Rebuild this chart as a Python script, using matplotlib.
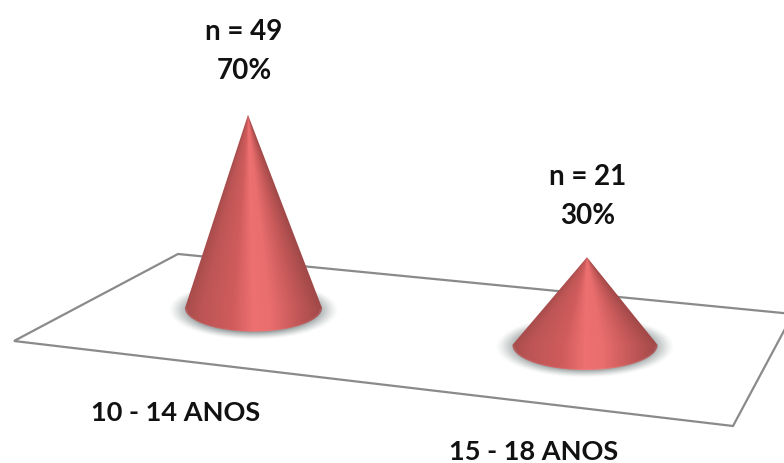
import numpy as np
import matplotlib
matplotlib.use('Agg')
import matplotlib.pyplot as plt
from matplotlib.colors import LinearSegmentedColormap
from matplotlib.patches import Polygon

categories = ['10 - 14 ANOS', '15 - 18 ANOS']
counts = [49, 21]
percents = [70, 30]

# perspective layout of the floor, in pixel units
FLOOR = [(178, 254), (793, 314), (733, 426), (14, 341)]
base_x = [253.5, 585]
base_y = [308, 345]
apex_shift = [-5.5, 2]
depth = [1.0, 1.06]
RADIUS = 68.5
FLATTEN = 0.345
PX_PER_PERCENT = 2.76

value_x = [244, 588]
value_gap = [31, 28]
label_x = [176, 534]
label_y = [421, 460]

cone_cmap = LinearSegmentedColormap.from_list('cone', [
    (0.00, '#a84c4c'), (0.12, '#bd5555'), (0.35, '#d05c5c'), (0.50, '#ee7070'),
    (0.62, '#ea6e6e'), (0.80, '#c85a5a'), (1.00, '#a04848')])


def draw_shadow(ax, cx, cy, a, b):
    xs = np.linspace(cx - a, cx + a, 200)
    ys = np.linspace(cy - b, cy + b, 100)
    xx, yy = np.meshgrid(xs, ys)
    r = np.sqrt(((xx - cx) / a) ** 2 + ((yy - cy) / b) ** 2)
    rgba = np.zeros(xx.shape + (4,))
    rgba[..., :3] = (0.40, 0.44, 0.44)
    rgba[..., 3] = np.clip((1 - r) / 0.35, 0, 1) ** 1.3
    ax.imshow(rgba, extent=(cx - a, cx + a, cy + b, cy - b), zorder=2,
              interpolation='bilinear', aspect='auto')


def draw_cone(ax, cx, cy, top_x, height, a):
    b = a * FLATTEN
    top_y = cy - height
    # body outline: the two sides plus the front half of the base ellipse
    t = np.linspace(0, np.pi, 80)
    outline = [(top_x, top_y)] + [(cx + a * np.cos(v), cy + b * np.sin(v)) for v in t]

    xs = np.linspace(cx - a - 2, cx + a + 2, 300)
    ys = np.linspace(top_y - 1, cy + b + 1, 400)
    xx, yy = np.meshgrid(xs, ys)
    frac = np.clip((yy - top_y) / height, 0.002, 1)
    mid = top_x + (cx - top_x) * frac
    u = (xx - mid) / (a * frac)
    shade = cone_cmap(np.clip((u + 1) / 2, 0, 1))
    # slightly lighter rim along the bottom edge
    rim = np.sqrt(((xx - cx) / a) ** 2 + ((yy - cy) / b) ** 2)
    below = (yy > cy) & (rim > 0.97)
    shade[below, :3] = shade[below, :3] * 0.9 + 0.1

    img = ax.imshow(shade, extent=(xs[0], xs[-1], ys[-1], ys[0]), zorder=3,
                    interpolation='bilinear', aspect='auto')
    clip = Polygon(outline, closed=True, transform=ax.transData, facecolor='none', edgecolor='none')
    ax.add_patch(clip)
    img.set_clip_path(clip)


fig = plt.figure(figsize=(7.84, 4.63), dpi=100)
ax = fig.add_axes([0, 0, 1, 1])

ax.add_patch(Polygon(FLOOR, closed=True, facecolor='white', edgecolor='#8a8a8a',
                     linewidth=1.6, zorder=1))

for i in range(len(percents)):
    a = RADIUS * depth[i]
    height = percents[i] * PX_PER_PERCENT * depth[i]
    draw_shadow(ax, base_x[i], base_y[i] + 2, a + 17, a * FLATTEN + 6)
    draw_cone(ax, base_x[i], base_y[i], base_x[i] + apex_shift[i], height, a)

    top = base_y[i] - height
    ax.text(value_x[i], top - value_gap[i], f'n = {counts[i]}\n{percents[i]}%',
            ha='center', va='bottom', fontsize=20, fontweight='bold', family='Lato',
            color='#111111', linespacing=1.62)
    ax.text(label_x[i], label_y[i], categories[i], ha='center', va='baseline',
            fontsize=19.5, fontweight='bold', family='Lato', color='#111111')

ax.set_xlim(0, 784)
ax.set_ylim(463, 0)
ax.axis('off')

fig.savefig('out.png', dpi=100)
